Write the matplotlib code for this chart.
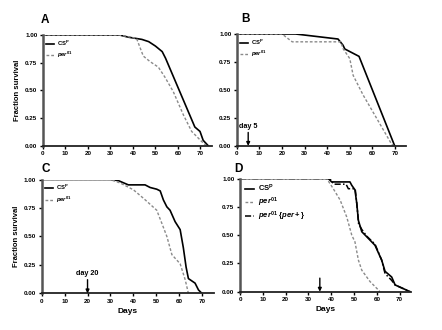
import matplotlib
matplotlib.use("Agg")
import matplotlib.pyplot as plt

plt.rcParams['font.family'] = ['Liberation Sans', 'DejaVu Sans']
plt.rcParams['font.weight'] = 'bold'
plt.rcParams['mathtext.fontset'] = 'custom'
plt.rcParams['mathtext.rm'] = 'Liberation Sans:bold'
plt.rcParams['mathtext.bf'] = 'Liberation Sans:bold'
plt.rcParams['mathtext.it'] = 'Liberation Sans:bold:italic'

# ---- data (days, fraction surviving) ----
a_cs_days = [0, 34, 38, 44, 47, 50, 53, 54.5, 67.5, 69.8, 71.2, 73.5]
a_cs_surv = [1, 1, 0.98, 0.96, 0.94, 0.90, 0.85, 0.79, 0.17, 0.13, 0.05, 0.0]
a_per_days = [0, 34, 41.6, 44.6, 47.6, 51.3, 54.2, 57.9, 62.4, 66.1, 70.5, 72.7]
a_per_surv = [1, 1, 0.97, 0.81, 0.76, 0.71, 0.62, 0.49, 0.28, 0.13, 0.04, 0.0]

b_cs_days = [0, 26, 44.8, 47, 47.8, 54.1, 69.9]
b_cs_surv = [1, 1, 0.955, 0.90, 0.866, 0.80, 0]
b_per_days = [0, 20, 24.5, 46, 47, 50, 51.5, 55.9, 61.8, 68.4, 69.3]
b_per_surv = [1, 1, 0.93, 0.93, 0.87, 0.78, 0.63, 0.455, 0.25, 0.02, 0]

c_cs_days = [0, 30, 33.5, 37.8, 45.1, 47.3, 50.2, 51.7, 53.1, 54.6, 56, 58.2,
             60.4, 61.8, 63, 64, 66.9, 68.4, 69.9]
c_cs_surv = [1, 1, 0.99, 0.953, 0.953, 0.93, 0.915, 0.90, 0.82, 0.76, 0.73, 0.63,
             0.56, 0.40, 0.23, 0.13, 0.09, 0.03, 0]
c_per_days = [0, 29.8, 34.2, 40, 44.4, 50.2, 52.4, 54.6, 56.8, 60.4, 62.6, 64]
c_per_surv = [1, 1, 0.97, 0.91, 0.835, 0.73, 0.616, 0.50, 0.34, 0.26, 0.12, 0]

d_cs_days = [0, 38.7, 40.2, 48.2, 49, 50.4, 51.2, 51.9, 53.4, 55.6, 59.2, 62.1,
             63.6, 66.5, 68, 74.6]
d_cs_surv = [1, 1, 0.97, 0.97, 0.94, 0.90, 0.78, 0.63, 0.53, 0.485, 0.41, 0.28,
             0.18, 0.13, 0.06, 0]
d_per_days = [0, 38, 40.9, 43.9, 46.8, 49, 50.4, 51.9, 53.4, 57, 60.7, 61.3]
d_per_surv = [1, 1, 0.91, 0.81, 0.66, 0.50, 0.44, 0.28, 0.19, 0.09, 0.015, 0]
d_res_days = [0, 39.5, 41, 46.5, 47.5, 50.5, 51.2, 52, 53.4, 55.6, 59.2, 62.1,
              63.6, 66.5, 68, 74.6]
d_res_surv = [1, 1, 0.95, 0.95, 0.91, 0.91, 0.78, 0.60, 0.55, 0.49, 0.42, 0.28,
              0.16, 0.10, 0.06, 0]

xticks = [0, 10, 20, 30, 40, 50, 60, 70]
yticks = [0, 0.25, 0.5, 0.75, 1.0]
ytick_labels = ['0.00', '0.25', '0.50', '0.75', '1.00']

lab_cs = r'$\mathrm{CS}^{\mathrm{P}}$'
lab_per = r'$per^{01}$'
lab_res = r'$per^{01}$ $\{per+\}$'

solid = dict(color='black', lw=1.2)
dotted = dict(color='#8a8a8a', lw=1.0, linestyle=(0, (2, 1.4)))

fig = plt.figure(figsize=(4.42, 3.30), dpi=100)


def style(ax):
    ax.set_xlim(0, 75)
    ax.set_ylim(0, 1.0)
    ax.set_xticks(xticks)
    ax.set_yticks(yticks)
    ax.set_yticklabels(ytick_labels)
    for s in ['top', 'right']:
        ax.spines[s].set_visible(False)
    ax.spines['left'].set_color('#555555')
    ax.spines['left'].set_linewidth(1.8)
    ax.spines['bottom'].set_color('#222222')
    ax.spines['bottom'].set_linewidth(1.3)
    ax.tick_params(labelsize=4.5, length=2.5, width=1.0, pad=1.5)
    for t in ax.get_xticklabels() + ax.get_yticklabels():
        t.set_fontweight('bold')


def arrow(ax, day, text=None):
    ax.annotate('', xy=(day, 0), xytext=(day, 0.12),
                arrowprops=dict(arrowstyle='-|>', color='black', lw=1.0,
                                mutation_scale=5, shrinkA=0, shrinkB=0))
    if text:
        ax.text(day, 0.14, text, ha='center', va='bottom', fontsize=5.2)


axA = fig.add_axes([0.097, 0.558, 0.382, 0.336])
axA.plot(a_cs_days, a_cs_surv, label=lab_cs, **solid)
axA.plot(a_per_days, a_per_surv, label=lab_per, **dotted)
style(axA)
axA.set_ylabel('Fraction survival', fontsize=5.5, fontweight='bold', labelpad=3)
axA.legend(loc='upper left', fontsize=4.2, frameon=False, handlelength=1.3,
           handletextpad=0.6, borderaxespad=0.2, labelspacing=0.4)

axB = fig.add_axes([0.536, 0.558, 0.383, 0.339])
axB.plot(b_cs_days, b_cs_surv, label=lab_cs, **solid)
axB.plot(b_per_days, b_per_surv, label=lab_per, **dotted)
style(axB)
arrow(axB, 5, 'day 5')
axB.legend(loc='upper left', fontsize=4.2, frameon=False, handlelength=1.3,
           handletextpad=0.6, borderaxespad=0.2, labelspacing=0.4)

axC = fig.add_axes([0.0943, 0.111, 0.389, 0.345])
axC.plot(c_cs_days, c_cs_surv, label=lab_cs, **solid)
axC.plot(c_per_days, c_per_surv, label=lab_per, **dotted)
style(axC)
arrow(axC, 20, 'day 20')
axC.set_ylabel('Fraction survival', fontsize=5.5, fontweight='bold', labelpad=3)
axC.set_xlabel('Days', fontsize=6, fontweight='bold', labelpad=3)
axC.legend(loc='upper left', fontsize=4.2, frameon=False, handlelength=1.3,
           handletextpad=0.6, borderaxespad=0.2, labelspacing=0.4)

axD = fig.add_axes([0.543, 0.116, 0.387, 0.343])
axD.plot(d_cs_days, d_cs_surv, label=lab_cs, **solid)
axD.plot(d_per_days, d_per_surv, label=lab_per, **dotted)
axD.plot(d_res_days, d_res_surv, label=lab_res, color='black', lw=1.1,
         linestyle=(0, (4, 1.5, 1, 1.5)))
style(axD)
arrow(axD, 35)
axD.set_xlabel('Days', fontsize=6, fontweight='bold', labelpad=3)
axD.legend(loc='upper left', fontsize=5.5, frameon=False, handlelength=1.2,
           handletextpad=0.6, borderaxespad=0.2, labelspacing=0.15)

# panel letters
for ax, letter, lx, ly in [(axA, 'A', -0.015, 1.105), (axB, 'B', 0.025, 1.105),
                           (axC, 'C', 0.0, 1.065), (axD, 'D', -0.035, 1.06)]:
    ax.text(lx, ly, letter, transform=ax.transAxes, fontsize=8.5,
            fontweight='bold', ha='left', va='baseline')

fig.savefig('out.png', dpi=100)
